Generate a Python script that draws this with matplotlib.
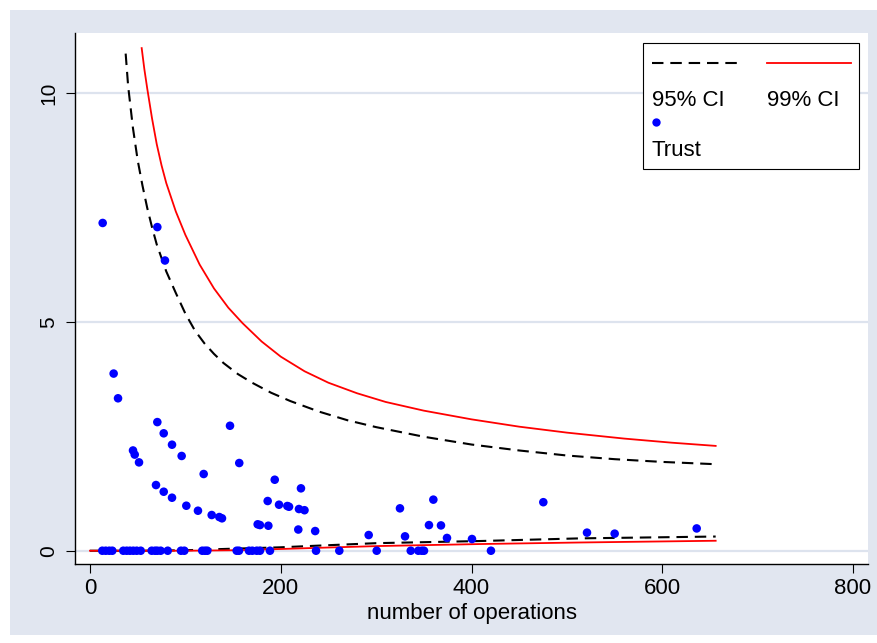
import matplotlib
matplotlib.use('Agg')
import matplotlib.pyplot as plt
from matplotlib.patches import Rectangle
from matplotlib.lines import Line2D

# funnel limits
ci95_up_x = [37.4, 40, 45, 50, 55, 60, 65, 70, 80, 90, 100, 110, 120, 130, 140,
             155, 170, 190, 210, 240, 270, 300, 350, 400, 450, 500, 550, 600, 656]
ci95_up_y = [10.86, 10.15, 9.24, 8.53, 7.98, 7.49, 7.07, 6.69, 6.10, 5.63, 5.18,
             4.81, 4.53, 4.30, 4.10, 3.86, 3.67, 3.45, 3.27, 3.04, 2.85, 2.70,
             2.49, 2.32, 2.19, 2.08, 2.00, 1.94, 1.89]
ci99_up_x = [54.2, 57, 60, 65, 70, 75, 80, 90, 100, 115, 130, 145, 160, 180, 200,
             225, 250, 280, 310, 350, 400, 450, 500, 560, 610, 656]
ci99_up_y = [10.98, 10.52, 10.10, 9.45, 8.88, 8.42, 8.03, 7.41, 6.90, 6.25, 5.73,
             5.31, 4.97, 4.57, 4.24, 3.92, 3.67, 3.44, 3.25, 3.06, 2.87, 2.71,
             2.58, 2.45, 2.36, 2.29]
ci95_lo_x = [0, 50, 100, 143, 199, 238, 300, 409, 514, 656]
ci95_lo_y = [0, 0, 0.01, 0.04, 0.074, 0.11, 0.165, 0.212, 0.27, 0.31]
ci99_lo_x = [0, 100, 150, 199, 250, 304, 409, 514, 656]
ci99_lo_y = [0, 0, 0.01, 0.037, 0.07, 0.103, 0.146, 0.18, 0.218]

# trust values by number of operations
ops = [13.3, 70.6, 78.6, 24.8, 29.4,
       70.6, 77.3, 86.0, 96.1, 45.1, 46.9, 51.4, 146.8, 119.2, 156.5,
       69.2, 77.3, 86.0, 101.0, 113.2, 127.6, 135.6, 138.4, 193.7, 221.2,
       186.3, 198.2, 206.9, 208.7, 219.1, 224.9, 175.8, 178.2, 187.0,
       218.4, 236.1, 292.2, 325.0, 330.3, 360.0, 355.4, 368.0, 374.3,
       400.5, 475.3, 521.1, 550.1, 636.1,
       12.9, 16.5, 20.2, 23.4, 34.9, 38.5, 41.9, 45.4, 49.0, 53.2, 64.7,
       68.2, 70.6, 74.1, 81.5, 95.4, 98.9, 117.7, 120.6, 123.0, 153.8,
       156.2, 166.7, 170.2, 174.8, 178.2, 188.7, 237.0, 261.4, 300.6,
       336.3, 344.2, 347.8, 350.2, 420.4]
trust = [7.16, 7.07, 6.34, 3.87, 3.33,
         2.81, 2.565, 2.316, 2.07, 2.19, 2.10, 1.93, 2.73, 1.676, 1.916,
         1.435, 1.289, 1.158, 0.983, 0.874, 0.78, 0.736, 0.708, 1.551, 1.363,
         1.086, 1.005, 0.977, 0.961, 0.911, 0.885, 0.577, 0.561, 0.546,
         0.463, 0.43, 0.343, 0.926, 0.314, 1.116, 0.56, 0.553, 0.279,
         0.256, 1.06, 0.395, 0.373, 0.487,
         0, 0, 0, 0, 0, 0, 0, 0, 0, 0, 0,
         0, 0, 0, 0, 0, 0, 0, 0, 0, 0,
         0, 0, 0, 0, 0, 0, 0, 0, 0,
         0, 0, 0, 0, 0]

xticks = [0, 200, 400, 600, 800]
yticks = [0, 5, 10]

W, H = 877, 643
bg = '#e1e6f0'
regular = ['Liberation Sans', 'DejaVu Sans']

fig = plt.figure(figsize=(W / 100, H / 100), dpi=100)
fig.patch.set_facecolor('white')
fig.patches.append(Rectangle((10 / W, 1 - 635 / H), 1 - 10 / W, (635 - 10) / H,
                             transform=fig.transFigure, facecolor=bg,
                             edgecolor='none', zorder=-10))

def fx(px):
    return px / W

def fy(py):
    return 1 - py / H

ax = fig.add_axes([fx(75.3), fy(564), (867.7 - 75.3) / W, (564 - 33) / H])
ax.set_facecolor('white')

ax.plot(ci95_up_x, ci95_up_y, color='black', lw=1.5, dashes=(5.5, 3.3), zorder=3)
ax.plot(ci99_up_x, ci99_up_y, color='red', lw=1.3, zorder=3)
ax.plot(ci95_lo_x, ci95_lo_y, color='black', lw=1.5, dashes=(5.5, 3.3), zorder=3)
ax.plot(ci99_lo_x, ci99_lo_y, color='red', lw=1.3, zorder=3)
ax.scatter(ops, trust, s=38, color='#0000ff', edgecolors='none', zorder=4)

ax.set_xlim(-15.4, 815.4)
ax.set_ylim(-0.29, 11.31)
ax.set_xticks(xticks)
ax.set_yticks(yticks)
ax.set_xticklabels([str(t) for t in xticks], family=regular, fontsize=16)
ax.set_yticklabels([str(t) for t in yticks], family=regular, fontsize=15,
                   rotation=90, va='center')
ax.tick_params(axis='x', direction='out', length=6.5, width=0.8, pad=3.5)
ax.tick_params(axis='y', direction='out', length=6.5, width=0.8, pad=6)
ax.yaxis.grid(True, color='#dde3ee', lw=1.6, zorder=0)
ax.set_axisbelow(True)
for side in ['top', 'right']:
    ax.spines[side].set_visible(False)
for side in ['left', 'bottom']:
    ax.spines[side].set_linewidth(1.0)
ax.set_xlabel('number of operations', family=regular, fontsize=16, labelpad=3)

# legend box, Stata style
fig.patches.append(Rectangle((fx(643.3), fy(169.3)), (859 - 643.3) / W, (169.3 - 42.7) / H,
                             transform=fig.transFigure, facecolor='white',
                             edgecolor='black', lw=0.8, zorder=5))
fig.lines.append(Line2D([fx(652), fx(737)], [fy(62.7), fy(62.7)], transform=fig.transFigure,
                        color='black', lw=1.5, dashes=(5.5, 3.3), zorder=6))
fig.lines.append(Line2D([fx(767), fx(851)], [fy(62.7), fy(62.7)], transform=fig.transFigure,
                        color='red', lw=1.3, zorder=6))
fig.lines.append(Line2D([fx(655.7)], [fy(121.7)], transform=fig.transFigure, marker='o',
                        markersize=6, color='#0000ff', markeredgewidth=0, zorder=6))
fig.text(fx(652), fy(100), '95% CI', family=regular, fontsize=16, va='center', zorder=6)
fig.text(fx(767), fy(100), '99% CI', family=regular, fontsize=16, va='center', zorder=6)
fig.text(fx(652), fy(150), 'Trust', family=regular, fontsize=16, va='center', zorder=6)

fig.savefig('out.png', dpi=100, facecolor=fig.get_facecolor())
